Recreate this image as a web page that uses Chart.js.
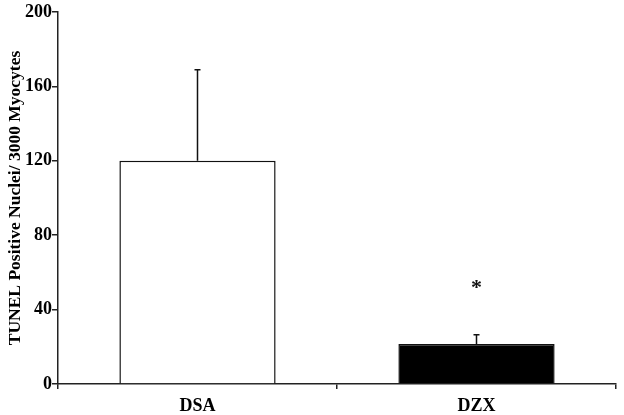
<!DOCTYPE html>
<html>
<head>
<meta charset="utf-8">
<script src="https://cdn.jsdelivr.net/npm/chart.js@4"></script>
<style>
html,body{margin:0;padding:0;background:#fff;}
#wrap{width:624px;height:415px;position:relative;}
</style>
</head>
<body>
<div id="wrap"><canvas id="c" width="624" height="415"></canvas></div>
<script>
const categories = ["DSA", "DZX"];
const values = [120, 21.5];
const errors = [49, 5];
const significance = ["", "*"];
const yTicks = [0, 40, 80, 120, 160, 200];
const yTitle = "TUNEL Positive Nuclei/ 3000 Myocytes";

const serif = "'Liberation Serif', 'Times New Roman', serif";

const errorBarPlugin = {
  id: 'errorBars',
  afterDatasetsDraw(chart) {
    const ctx = chart.ctx;
    const meta = chart.getDatasetMeta(0);
    const y = chart.scales.y;
    ctx.save();
    meta.data.forEach((bar, i) => {
      const x = bar.x;
      const top = y.getPixelForValue(values[i] + errors[i]);
      const base = y.getPixelForValue(values[i]);
      ctx.strokeStyle = '#111';
      ctx.lineWidth = 1.5;
      ctx.beginPath();
      ctx.moveTo(x, base);
      ctx.lineTo(x, top);
      ctx.moveTo(x - 3, top);
      ctx.lineTo(x + 3, top);
      ctx.stroke();
      if (significance[i]) {
        ctx.fillStyle = '#111';
        ctx.font = "bold 22px " + serif;
        ctx.textAlign = 'center';
        ctx.textBaseline = 'middle';
        ctx.fillText(significance[i], x, y.getPixelForValue(values[i] + errors[i] + 26) + 2);
      }
    });
    ctx.restore();
  }
};

new Chart(document.getElementById('c'), {
  type: 'bar',
  data: {
    labels: categories,
    datasets: [{
      data: values,
      backgroundColor: ['#ffffff', '#000000'],
      borderColor: '#111',
      borderWidth: 1.5,
      categoryPercentage: 1.0,
      barPercentage: 0.56
    }]
  },
  options: {
    responsive: false,
    animation: false,
    devicePixelRatio: 1,
    layout: { padding: { top: 12, right: 8, left: 0, bottom: 0 } },
    plugins: { legend: { display: false }, tooltip: { enabled: false } },
    scales: {
      x: {
        offset: true,
        grid: { offset: true, drawOnChartArea: false, drawTicks: true, tickLength: 5, color: '#222', lineWidth: 1.5 },
        border: { display: true, color: '#222', width: 1.5 },
        ticks: { color: '#000', font: { family: serif, size: 18, weight: 'bold' }, padding: 7 },
        afterFit(s) { s.height = 31; }
      },
      y: {
        min: 0, max: 200,
        afterBuildTicks(s) { s.ticks = yTicks.map(v => ({ value: v })); },
        grid: { drawOnChartArea: false, drawTicks: true, tickLength: 6, color: '#222', lineWidth: 1.5 },
        border: { display: true, color: '#222', width: 1.5 },
        ticks: { color: '#000', font: { family: serif, size: 18, weight: 'bold' }, padding: 0 },
        title: { display: true, text: yTitle, color: '#000', font: { family: serif, size: 17.5, weight: 'bold' }, padding: { top: 5, bottom: 4 } },
        afterFit(s) { s.width = 58; }
      }
    }
  },
  plugins: [errorBarPlugin]
});
</script>
</body>
</html>
